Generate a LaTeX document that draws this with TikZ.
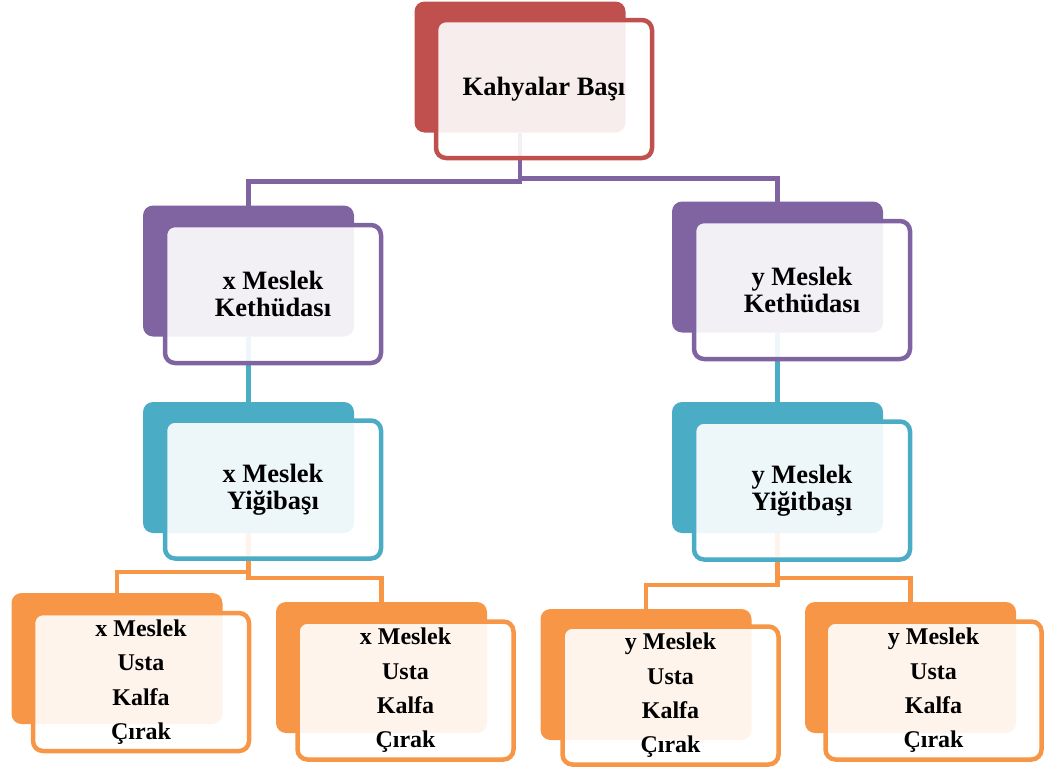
\documentclass[tikz,border=0pt]{standalone}
\usepackage{fontspec}
\setmainfont{Liberation Serif}
\definecolor{cRed}{HTML}{C0504D}
\definecolor{cPurple}{HTML}{8064A2}
\definecolor{cCyan}{HTML}{4BACC6}
\definecolor{cOrange}{HTML}{F79646}
\tikzset{
  backbox/.style={draw=none, fill=#1, rounded corners=10pt,
    minimum width=211pt, minimum height=131pt, inner sep=0pt, outer sep=0pt},
  frontbox/.style={draw=#1, line width=4.5pt, fill=white, fill opacity=0.9,
    text opacity=1, rounded corners=10pt, minimum width=216pt,
    minimum height=138pt, inner sep=0pt, outer sep=0pt, align=center,
    font=\bfseries\fontsize{26.5}{27}\selectfont},
  smallbox/.style={frontbox=#1, font=\bfseries\fontsize{24}{34.3}\selectfont},
  link/.style={draw=#1, line width=4.5pt}
}
\begin{document}
\begin{tikzpicture}[x=1pt, y=-1pt]
\useasboundingbox (0,0) rectangle (1061,771);

% solid back plates
\node[backbox=cRed]    (kb)  at (520,67)     {};
\node[backbox=cPurple] (xkb) at (248.5,271)  {};
\node[backbox=cPurple] (ykb) at (777.5,267)  {};
\node[backbox=cCyan]   (xyb) at (248.5,467.5){};
\node[backbox=cCyan]   (yyb) at (777.5,467.5){};
\node[backbox=cOrange] (b1b) at (117,658.5)  {};
\node[backbox=cOrange] (b2b) at (381.5,667.5){};
\node[backbox=cOrange] (b3b) at (646,674.5)  {};
\node[backbox=cOrange] (b4b) at (910.5,667.5){};

% connectors
\draw[link=cPurple] (kb.south) -- ++(0,49) -| (xkb.north);
\draw[link=cPurple] (kb.south) -- ++(0,46) -| (ykb.north);
\draw[link=cCyan] (xkb.south) -- (xyb.north);
\draw[link=cCyan] (ykb.south) -- (yyb.north);
\draw[link=cOrange] (xyb.south) -- ++(0,39) -| (b1b.north);
\draw[link=cOrange] (xyb.south) -- ++(0,45) -| (b2b.north);
\draw[link=cOrange] (yyb.south) -- ++(0,52) -| (b3b.north);
\draw[link=cOrange] (yyb.south) -- ++(0,45) -| (b4b.north);

% text cards
\node[frontbox=cRed]    (k)  at (544,89)     {Kahyalar Başı};
\node[frontbox=cPurple] (xk) at (273,294)    {x Meslek\\Kethüdası};
\node[frontbox=cPurple] (yk) at (802,290)    {y Meslek\\Kethüdası};
\node[frontbox=cCyan]   (xy) at (273,489.5)  {x Meslek\\Yiğibaşı};
\node[frontbox=cCyan]   (yy) at (802,490.5)  {y Meslek\\Yiğitbaşı};
\node[smallbox=cOrange] (b1) at (141,682)    {x Meslek\\Usta\\Kalfa\\Çırak};
\node[smallbox=cOrange] (b2) at (405.5,690.5){x Meslek\\Usta\\Kalfa\\Çırak};
\node[smallbox=cOrange] (b3) at (670.5,695.5){y Meslek\\Usta\\Kalfa\\Çırak};
\node[smallbox=cOrange] (b4) at (933.5,690.5){y Meslek\\Usta\\Kalfa\\Çırak};
\end{tikzpicture}
\end{document}
